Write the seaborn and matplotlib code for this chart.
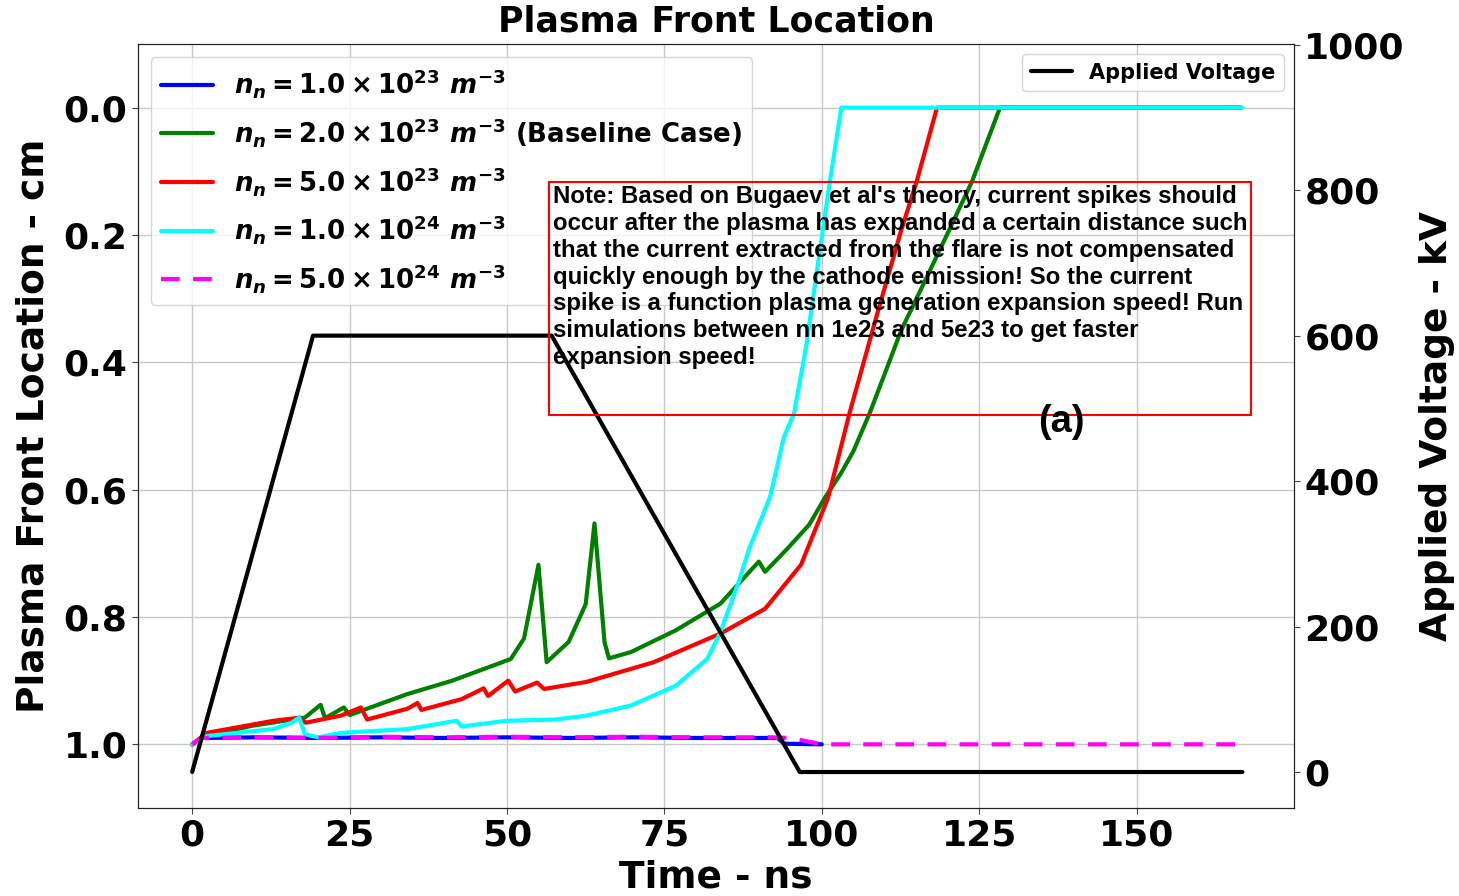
import matplotlib
matplotlib.use("Agg")
import matplotlib.pyplot as plt
import seaborn as sns
import pandas as pd
from matplotlib.patches import Rectangle

# ---------------- data ----------------
t_blue = [0, 1.5, 10, 20, 30, 40, 50, 60, 70, 80, 88, 93.0, 94.0, 100.0]
v_blue = [1.0, 0.99, 0.989, 0.99, 0.989, 0.99, 0.989, 0.99, 0.989, 0.99, 0.99, 0.99, 0.999, 1.0]

t_green = [0, 1.6, 9.4, 17.9, 20.4, 21.1, 24.1, 25.0, 34.2, 41.3, 50.6, 52.7, 55.0, 56.3,
           59.8, 62.5, 63.9, 65.5, 66.2, 69.7, 76.8, 83.9, 90.0, 91.0, 94.6, 98.0, 100.6,
           103.0, 105.0, 107.6, 110.0, 112.6, 116.4, 120.2, 123.9, 128.3, 140, 166.5]
v_green = [1.0, 0.989, 0.971, 0.958, 0.938, 0.959, 0.942, 0.954, 0.921, 0.900, 0.866, 0.834,
           0.718, 0.871, 0.839, 0.78, 0.653, 0.84, 0.865, 0.855, 0.821, 0.779, 0.713, 0.729,
           0.692, 0.655, 0.611, 0.575, 0.54, 0.48, 0.418, 0.35, 0.272, 0.193, 0.115, 0.0, 0.0, 0.0]

t_red = [0, 2.3, 12.9, 17.2, 18.0, 23.6, 26.8, 27.8, 34.2, 35.8, 36.4, 42.8, 46.3, 47.0,
         50.2, 51.3, 54.8, 55.9, 62.6, 73.3, 83.9, 91.0, 96.7, 101.0, 104.4, 108.8, 112.6,
         115.1, 118.3, 140, 166.5]
v_red = [1.0, 0.982, 0.963, 0.958, 0.966, 0.955, 0.942, 0.961, 0.944, 0.935, 0.946, 0.929,
         0.912, 0.924, 0.900, 0.917, 0.903, 0.913, 0.902, 0.871, 0.826, 0.787, 0.718, 0.613,
         0.48, 0.324, 0.193, 0.115, 0.0, 0.0, 0.0]

t_cyan = [0, 2.3, 12.9, 15.8, 17.0, 17.9, 20.0, 23.6, 34.2, 42.0, 42.8, 49.9, 57.7, 62.6,
          69.7, 76.8, 81.8, 83.9, 86.8, 88.5, 91.8, 94.0, 95.6, 97.5, 99.4, 101.3, 103.1,
          140, 166.8]
v_cyan = [1.0, 0.987, 0.976, 0.966, 0.958, 0.984, 0.989, 0.982, 0.976, 0.963, 0.972, 0.963,
          0.961, 0.955, 0.939, 0.908, 0.866, 0.824, 0.745, 0.692, 0.611, 0.517, 0.48, 0.376,
          0.245, 0.115, 0.0, 0.0, 0.0]

t_mag = [0, 1.5, 10, 20, 30, 40, 50, 60, 70, 80, 90, 92.0, 95.0, 98.0, 100.3, 130, 166.3]
v_mag = [1.0, 0.99, 0.989, 0.99, 0.988, 0.989, 0.988, 0.989, 0.988, 0.989, 0.989, 0.989,
         0.99, 0.996, 1.0, 1.0, 1.0]

t_volt = [0, 19.2, 57.1, 96.5, 166.8]
v_volt = [0, 600, 600, 0, 0]

series_labels = [r"$n_n = 1.0 \times 10^{23}\ m^{-3}$",
                 r"$n_n = 2.0 \times 10^{23}\ m^{-3}$ (Baseline Case)",
                 r"$n_n = 5.0 \times 10^{23}\ m^{-3}$",
                 r"$n_n = 1.0 \times 10^{24}\ m^{-3}$",
                 r"$n_n = 5.0 \times 10^{24}\ m^{-3}$"]

note = ("Note: Based on Bugaev et al's theory, current spikes should\n"
        "occur after the plasma has expanded a certain distance such\n"
        "that the current extracted from the flare is not compensated\n"
        "quickly enough by the cathode emission! So the current\n"
        "spike is a function plasma generation expansion speed! Run\n"
        "simulations between nn 1e23 and 5e23 to get faster\n"
        "expansion speed!")

# ---------------- style ----------------
sns.set_style("ticks")
plt.rcParams["font.family"] = ["DejaVu Sans"]
plt.rcParams["font.weight"] = "bold"
plt.rcParams["axes.labelweight"] = "bold"
plt.rcParams["axes.titleweight"] = "bold"
plt.rcParams["mathtext.fontset"] = "custom"
plt.rcParams["mathtext.rm"] = "DejaVu Sans:bold"
plt.rcParams["mathtext.bf"] = "DejaVu Sans:bold"
plt.rcParams["mathtext.it"] = "DejaVu Sans:italic:bold"
plt.rcParams["text.color"] = "black"
plt.rcParams["axes.labelcolor"] = "black"
plt.rcParams["axes.edgecolor"] = "#222222"
plt.rcParams["xtick.color"] = "#444444"
plt.rcParams["ytick.color"] = "#444444"
plt.rcParams["xtick.labelcolor"] = "black"
plt.rcParams["ytick.labelcolor"] = "black"

fig = plt.figure(figsize=(14.59, 8.96), dpi=100)
ax = fig.add_axes([0.0946, 0.0982, 0.7923, 0.8527])
ax2 = ax.twinx()

lw = 3.0
def draw(t, v, color, label, **kw):
    df = pd.DataFrame({"t": t, "v": v})
    sns.lineplot(data=df, x="t", y="v", ax=ax, color=color, lw=lw, label=label,
                 sort=False, estimator=None, **kw)

draw(t_blue, v_blue, "blue", series_labels[0])
draw(t_green, v_green, "green", series_labels[1])
draw(t_red, v_red, "red", series_labels[2])
draw(t_cyan, v_cyan, "cyan", series_labels[3])
draw(t_mag, v_mag, "magenta", series_labels[4], dashes=False)
ax.lines[-1].set_dashes((4.5, 3.2))

dfv = pd.DataFrame({"t": t_volt, "v": v_volt})
sns.lineplot(data=dfv, x="t", y="v", ax=ax2, color="black", lw=lw, label="Applied Voltage",
             sort=False, estimator=None)

ax.set_xlim(-8.6, 175)
ax.set_ylim(1.1, -0.1)
ax.set_yticks([0.0, 0.2, 0.4, 0.6, 0.8, 1.0])
ax.set_xticks([0, 25, 50, 75, 100, 125, 150])
ax2.set_ylim(-49.5, 1001)
ax2.set_yticks([0, 200, 400, 600, 800, 1000])

ax.grid(True, color="#c8c8c8", lw=1.0)
ax.tick_params(labelsize=26, length=4)
ax2.tick_params(labelsize=26, length=4)
for lab in ax.get_xticklabels() + ax.get_yticklabels() + ax2.get_yticklabels():
    lab.set_fontweight("bold")

ax.set_xlabel("Time - ns", fontsize=27, fontweight="bold", labelpad=5)
ax.set_ylabel("Plasma Front Location - cm", fontsize=27, fontweight="bold", labelpad=9)
ax2.set_ylabel("Applied Voltage - kV", fontsize=27, fontweight="bold", labelpad=10)
ax.set_title("Plasma Front Location", fontsize=25, fontweight="bold", y=1.0157, pad=0)

leg1 = ax.legend(loc="upper left", fontsize=18.7, handlelength=2.0, labelspacing=0.6,
                 borderaxespad=0.5)
leg2 = ax2.legend(loc="upper right", fontsize=15, handlelength=2.0, borderaxespad=0.5)
for txt in leg1.get_texts() + leg2.get_texts():
    txt.set_fontweight("bold")

ax2.add_patch(Rectangle((0.3555, 0.5144), 0.6073, 0.305, transform=ax2.transAxes,
                        fill=False, edgecolor="red", lw=1.5, zorder=5))
ax2.text(0.359, 0.815, note, transform=ax2.transAxes, va="top", ha="left",
         fontsize=17.3, fontweight="bold", family="Liberation Sans", linespacing=1.21, zorder=6)
ax2.text(0.799, 0.505, "(a)", transform=ax2.transAxes, ha="center", va="center",
         fontsize=27.5, fontweight="bold", family="Liberation Sans", zorder=6)

fig.savefig("out.png", dpi=100)
